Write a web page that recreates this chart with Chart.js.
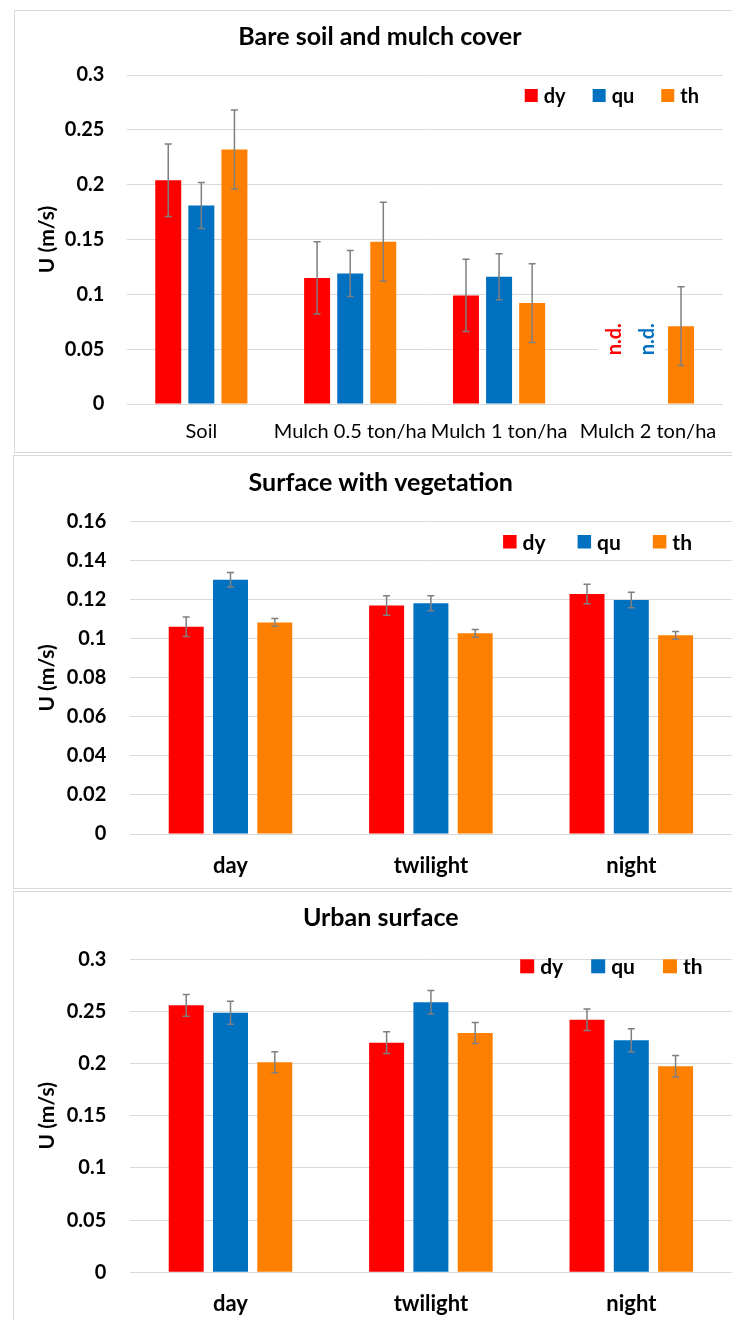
<!DOCTYPE html>
<html>
<head>
<meta charset="utf-8">
<script src="https://cdn.jsdelivr.net/npm/chart.js@4.4.1/dist/chart.umd.min.js"></script>
<style>
  html, body { margin: 0; padding: 0; width: 732px; height: 1320px; overflow: hidden; background: #fff; }
  .frame { position: absolute; border: 1px solid #d9d9d9; box-sizing: border-box; }
  canvas { position: absolute; }
</style>
</head>
<body>
<div class="frame" style="left:14px;top:10px;width:740px;height:443px"></div>
<div class="frame" style="left:13px;top:455px;width:740px;height:434px"></div>
<div class="frame" style="left:13px;top:891px;width:740px;height:440px"></div>
<canvas id="bare" width="702" height="442" style="left:30px;top:10px"></canvas>
<canvas id="veg" width="702" height="433" style="left:30px;top:455px"></canvas>
<canvas id="urban" width="702" height="440" style="left:30px;top:891px"></canvas>
<script>
// ---- data ----
const seriesNames = ['dy', 'qu', 'th'];
const seriesColors = ['#ff0000', '#0070c0', '#ff8000'];

// Bare soil and mulch cover
const bareCategories = ['Soil', 'Mulch 0.5 ton/ha', 'Mulch 1 ton/ha', 'Mulch 2 ton/ha'];
const bareDy = [0.204, 0.115, 0.099, null];
const bareQu = [0.181, 0.119, 0.116, null];
const bareTh = [0.232, 0.148, 0.092, 0.071];
const bareDyErr = [0.033, 0.033, 0.033, null];
const bareQuErr = [0.021, 0.021, 0.021, null];
const bareThErr = [0.036, 0.036, 0.036, 0.036];
const bareTicks = ['0', '0.05', '0.1', '0.15', '0.2', '0.25', '0.3'];

// Surface with vegetation
const vegCategories = ['day', 'twilight', 'night'];
const vegDy = [0.1062, 0.1171, 0.1230];
const vegQu = [0.1303, 0.1182, 0.1199];
const vegTh = [0.1084, 0.1028, 0.1018];
const vegDyErr = [0.0050, 0.0050, 0.0050];
const vegQuErr = [0.0037, 0.0038, 0.0040];
const vegThErr = [0.0020, 0.0020, 0.0020];
const vegTicks = ['0', '0.02', '0.04', '0.06', '0.08', '0.1', '0.12', '0.14', '0.16'];

// Urban surface
const urbanCategories = ['day', 'twilight', 'night'];
const urbanDy = [0.2559, 0.2201, 0.2421];
const urbanQu = [0.2488, 0.2588, 0.2224];
const urbanTh = [0.2013, 0.2294, 0.1974];
const urbanDyErr = [0.0104, 0.0104, 0.0103];
const urbanQuErr = [0.0110, 0.0113, 0.0110];
const urbanThErr = [0.0101, 0.0101, 0.0103];
const urbanTicks = ['0', '0.05', '0.1', '0.15', '0.2', '0.25', '0.3'];

const FONT = "Lato, 'Open Sans', sans-serif";

// vertical error bars, drawn from each dataset's `errors` list
const errorBars = {
  id: 'errorBars',
  afterDatasetsDraw(chart, args, o) {
    const ctx = chart.ctx, y = chart.scales.y;
    ctx.save();
    ctx.strokeStyle = o.color;
    ctx.lineWidth = o.width;
    chart.data.datasets.forEach((ds, i) => {
      chart.getDatasetMeta(i).data.forEach((bar, j) => {
        const v = ds.data[j], e = ds.errors[j];
        if (v == null || e == null) return;
        const x = bar.x;
        const t = y.getPixelForValue(v + e), b = y.getPixelForValue(v - e);
        ctx.beginPath();
        ctx.moveTo(x, t); ctx.lineTo(x, b);
        ctx.moveTo(x - o.cap, t); ctx.lineTo(x + o.cap, t);
        ctx.moveTo(x - o.cap, b); ctx.lineTo(x + o.cap, b);
        ctx.stroke();
      });
    });
    ctx.restore();
  }
};

// "n.d." marker written vertically where a series has no value
const notDetermined = {
  id: 'notDetermined',
  afterDatasetsDraw(chart, args, o) {
    if (!o.text) return;
    const ctx = chart.ctx, y = chart.scales.y;
    const cy = y.getPixelForValue(o.at);
    ctx.save();
    ctx.font = `bold ${o.size}px ${FONT}`;
    ctx.textAlign = 'center';
    ctx.textBaseline = 'middle';
    chart.data.datasets.forEach((ds, i) => {
      chart.getDatasetMeta(i).data.forEach((bar, j) => {
        if (ds.data[j] != null) return;
        ctx.fillStyle = '#fff';
        ctx.fillRect(bar.x - 17, cy - 24, 34, 48);
        ctx.save();
        ctx.translate(bar.x, cy);
        ctx.rotate(-Math.PI / 2);
        ctx.fillStyle = ds.backgroundColor;
        ctx.fillText(o.text, 0, 0);
        ctx.restore();
      });
    });
    ctx.restore();
  }
};

// legend laid out inside the plot, right-aligned
const insideLegend = {
  id: 'insideLegend',
  afterDraw(chart, args, o) {
    const ctx = chart.ctx;
    ctx.save();
    ctx.font = `bold ${o.size}px ${FONT}`;
    ctx.textAlign = 'left';
    ctx.textBaseline = 'middle';
    const items = chart.data.datasets.map(d => ({ text: d.label, color: d.backgroundColor, w: ctx.measureText(d.label).width }));
    const total = items.reduce((s, it) => s + o.box + o.gap + it.w, 0) + o.spacing * (items.length - 1);
    let x = o.right - total;
    items.forEach(it => {
      ctx.fillStyle = it.color;
      ctx.fillRect(x, o.top, o.box, o.box);
      ctx.fillStyle = '#000';
      ctx.fillText(it.text, x + o.box + o.gap, o.top + o.box / 2 + 1);
      x += o.box + o.gap + it.w + o.spacing;
    });
    ctx.restore();
  }
};

function buildChart(id, title, categories, values, errors, tickLabels, max, step, L) {
  return new Chart(document.getElementById(id), {
    type: 'bar',
    data: {
      labels: categories,
      datasets: seriesNames.map((name, k) => ({
        label: name,
        data: values[k],
        errors: errors[k],
        backgroundColor: seriesColors[k],
        borderWidth: 0
      }))
    },
    options: {
      responsive: false,
      animation: false,
      events: [],
      layout: { padding: { left: 0, right: L.padRight, top: 0, bottom: 0 } },
      datasets: { bar: { categoryPercentage: L.cat, barPercentage: L.bar } },
      plugins: {
        legend: { display: false },
        tooltip: { enabled: false },
        title: {
          display: true, text: title, color: '#000',
          font: { family: FONT, size: 25, weight: 'bold', lineHeight: 1.2 },
          padding: { top: L.titleTop, bottom: L.titleBottom }
        },
        errorBars: { color: '#7f7f7f', width: 1.5, cap: 3.5 },
        insideLegend: L.legend,
        notDetermined: L.nd || {}
      },
      scales: {
        x: {
          grid: { display: false, drawTicks: false },
          border: { display: false },
          ticks: { color: '#000', autoSkip: false, maxRotation: 0, padding: L.xPad,
                   font: { family: FONT, size: L.xSize, weight: L.xWeight, lineHeight: 1.2 } },
          afterFit(s) { s.height = L.xHeight; }
        },
        y: {
          min: 0, max: max,
          grid: { color: '#d9d9d9', lineWidth: 1, drawTicks: false },
          border: { display: false },
          ticks: { stepSize: step, color: '#000', padding: L.yPad,
                   font: { family: FONT, size: 20, weight: 'bold' },
                   callback: v => tickLabels[Math.round(v / step)] },
          title: { display: true, text: 'U (m/s)', color: '#000',
                   font: { family: FONT, size: 21, weight: 'bold', lineHeight: 1.2 },
                   padding: { top: 5, bottom: 0 } },
          afterFit(s) { s.width = L.yWidth; }
        }
      }
    },
    plugins: [errorBars, notDetermined, insideLegend]
  });
}

buildChart('bare', 'Bare soil and mulch cover', bareCategories,
  [bareDy, bareQu, bareTh], [bareDyErr, bareQuErr, bareThErr], bareTicks, 0.3, 0.05,
  { padRight: 2.2, cat: 0.667, bar: 0.785, titleTop: 12, titleBottom: 23,
    xPad: 15.5, xSize: 20, xWeight: 'normal', xHeight: 48, yPad: 22.5, yWidth: 96.9,
    legend: { right: 669, top: 79, box: 13, gap: 6, spacing: 27, size: 20 },
    nd: { text: 'n.d.', at: 0.059, size: 20 } });

buildChart('veg', 'Surface with vegetation', vegCategories,
  [vegDy, vegQu, vegTh], [vegDyErr, vegQuErr, vegThErr], vegTicks, 0.16, 0.02,
  { padRight: 0.5, cat: 0.663, bar: 0.79, titleTop: 13, titleBottom: 23.7,
    xPad: 18.5, xSize: 22, xWeight: 'bold', xHeight: 54, yPad: 24, yWidth: 100.3,
    legend: { right: 662, top: 80, box: 13.5, gap: 6, spacing: 32, size: 21 } });

buildChart('urban', 'Urban surface', urbanCategories,
  [urbanDy, urbanQu, urbanTh], [urbanDyErr, urbanQuErr, urbanThErr], urbanTicks, 0.3, 0.05,
  { padRight: 0.5, cat: 0.663, bar: 0.79, titleTop: 12, titleBottom: 26.3,
    xPad: 18.2, xSize: 22, xWeight: 'bold', xHeight: 58.7, yPad: 24, yWidth: 100.3,
    legend: { right: 672.6, top: 68.3, box: 14, gap: 6, spacing: 28, size: 21 } });
</script>
</body>
</html>
